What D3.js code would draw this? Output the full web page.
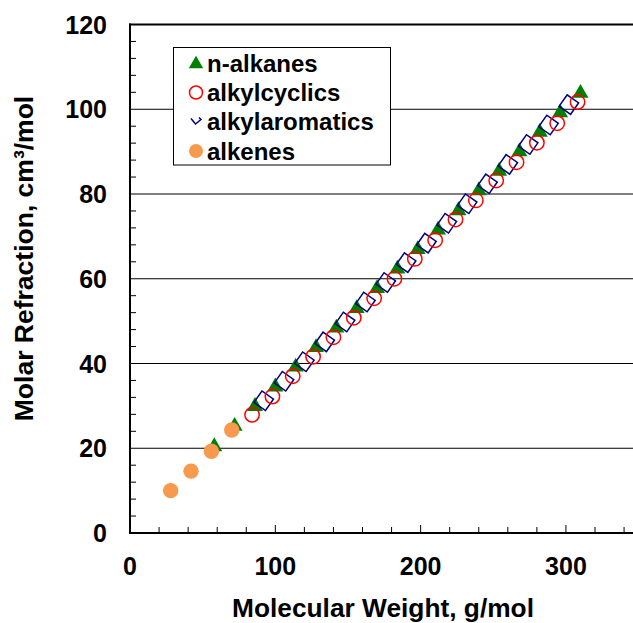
<!DOCTYPE html>
<html>
<head>
<meta charset="utf-8">
<script src="https://cdn.jsdelivr.net/npm/d3@7"></script>
<style>
  html, body { margin: 0; padding: 0; background: #fff; overflow: hidden; }
  svg { display: block; font-family: "Liberation Sans", Arial, sans-serif; font-weight: bold; }
</style>
</head>
<body>
<svg id="chart" width="633" height="623"></svg>
<script>
// ---- data ----
const alkaneMW  = [58, 72, 86, 100, 114, 128, 142, 156, 170, 184, 198, 212, 226, 240, 254, 268, 282, 296, 310];
const alkaneRI  = [20.4, 25.2, 29.9, 34.5, 39.2, 43.8, 48.4, 53.0, 57.7, 62.3, 66.9, 71.5, 76.1, 80.8, 85.4, 90.0, 94.6, 99.2, 103.8];
const cyclicMW  = [84, 98, 112, 126, 140, 154, 168, 182, 196, 210, 224, 238, 252, 266, 280, 294, 308];
const cyclicRI  = [27.9, 32.2, 37.0, 41.6, 46.2, 50.8, 55.4, 60.0, 64.7, 69.1, 74.0, 78.5, 83.2, 87.5, 92.1, 96.7, 101.7];
const aromMW    = [92, 106, 120, 134, 148, 162, 176, 190, 204, 218, 232, 246, 260, 274, 288, 302];
const aromRI    = [31.2, 35.8, 40.4, 45.1, 49.8, 54.5, 59.1, 63.8, 68.4, 73.1, 77.7, 82.4, 87.0, 91.7, 96.3, 101.1];
const alkeneMW  = [28, 42, 56, 70];
const alkeneRI  = [10.0, 14.6, 19.3, 24.3];
const seriesNames = ["n-alkanes", "alkylcyclics", "alkylaromatics", "alkenes"];
const xTicks = [0, 100, 200, 300];
const yTicks = [0, 20, 40, 60, 80, 100, 120];

const svg = d3.select("#chart");
const x = d3.scaleLinear().domain([0, 350]).range([130, 638.6]);
const y = d3.scaleLinear().domain([0, 120]).range([533, 24.5]);
const xRight = 633;

// gridlines
svg.append("g").selectAll("line").data([20, 40, 60, 80, 100]).join("line")
  .attr("x1", x(0)).attr("x2", xRight)
  .attr("y1", d => y(d)).attr("y2", d => y(d))
  .attr("stroke", "#000").attr("stroke-width", 1);

// minor/major ticks (inside)
const yMinor = d3.range(4, 120, 4).filter(d => d % 20 !== 0);
svg.append("g").selectAll("line").data(yMinor).join("line")
  .attr("x1", x(0)).attr("x2", x(0) + 6)
  .attr("y1", d => y(d)).attr("y2", d => y(d))
  .attr("stroke", "#000").attr("stroke-width", 1);
const xMinor = d3.range(20, 350, 20).filter(d => d % 100 !== 0);
svg.append("g").selectAll("line").data(xMinor).join("line")
  .attr("x1", d => x(d)).attr("x2", d => x(d))
  .attr("y1", y(0)).attr("y2", y(0) - 6)
  .attr("stroke", "#000").attr("stroke-width", 1);
svg.append("g").selectAll("line").data(xTicks.filter(d => d > 0)).join("line")
  .attr("x1", d => x(d)).attr("x2", d => x(d))
  .attr("y1", y(0)).attr("y2", y(0) - 8)
  .attr("stroke", "#000").attr("stroke-width", 1);

// frame
svg.append("line").attr("x1", x(0)).attr("x2", x(0)).attr("y1", y(120) - 1).attr("y2", y(0) + 1)
  .attr("stroke", "#000").attr("stroke-width", 2);
svg.append("line").attr("x1", x(0) - 1).attr("x2", xRight).attr("y1", y(0)).attr("y2", y(0))
  .attr("stroke", "#000").attr("stroke-width", 2);
svg.append("line").attr("x1", x(0) - 1).attr("x2", xRight).attr("y1", y(120)).attr("y2", y(120))
  .attr("stroke", "#000").attr("stroke-width", 2);

// tick labels
svg.append("g").selectAll("text").data(yTicks).join("text")
  .attr("x", 107).attr("y", d => y(d)).attr("dy", "0.36em")
  .attr("text-anchor", "end").attr("font-size", 25).text(d => d);
svg.append("g").selectAll("text").data(xTicks).join("text")
  .attr("x", d => x(d)).attr("y", 575)
  .attr("text-anchor", "middle").attr("font-size", 25).text(d => d);

// axis titles
svg.append("text").attr("x", 383).attr("y", 616.5).attr("text-anchor", "middle")
  .attr("font-size", 26.3).text("Molecular Weight, g/mol");
svg.append("text").attr("transform", "translate(32.5,258.5) rotate(-90)").attr("text-anchor", "middle")
  .attr("font-size", 26.5).text("Molar Refraction, cm³/mol");

// markers
const tri = d3.symbol().type(d3.symbolTriangle).size(110);
const zip = (a, b) => a.map((v, i) => [v, b[i]]);

svg.append("g").selectAll("path").data(zip(alkaneMW, alkaneRI)).join("path")
  .attr("d", tri).attr("transform", d => `translate(${x(d[0])},${y(d[1])})`)
  .attr("fill", "#008000");

svg.append("g").selectAll("rect").data(zip(aromMW, aromRI)).join("rect")
  .attr("x", -7).attr("y", -7).attr("width", 14).attr("height", 14)
  .attr("transform", d => `translate(${x(d[0])},${y(d[1])}) rotate(35)`)
  .attr("fill", "none").attr("stroke", "#000080").attr("stroke-width", 1.5);

svg.append("g").selectAll("circle").data(zip(cyclicMW, cyclicRI)).join("circle")
  .attr("cx", d => x(d[0])).attr("cy", d => y(d[1])).attr("r", 7.2)
  .attr("fill", "none").attr("stroke", "#ff0000").attr("stroke-width", 1.5);

svg.append("g").selectAll("circle").data(zip(alkeneMW, alkeneRI)).join("circle")
  .attr("cx", d => x(d[0])).attr("cy", d => y(d[1])).attr("r", 7.7)
  .attr("fill", "#f79a4d");

// legend
const lg = svg.append("g");
lg.append("rect").attr("x", 173.5).attr("y", 47.5).attr("width", 217).attr("height", 117.5)
  .attr("fill", "#fff").attr("stroke", "#000").attr("stroke-width", 1);
const rowY = [63, 92.5, 121.5, 151];
lg.selectAll("text").data(seriesNames).join("text")
  .attr("x", 207).attr("y", (d, i) => rowY[i]).attr("dy", "0.36em")
  .attr("font-size", 24).text(d => d);
lg.append("path").attr("d", d3.symbol().type(d3.symbolTriangle).size(90))
  .attr("transform", `translate(196,${rowY[0] + 1})`).attr("fill", "#008000");
lg.append("circle").attr("cx", 196).attr("cy", rowY[1]).attr("r", 6.5)
  .attr("fill", "none").attr("stroke", "#ff0000").attr("stroke-width", 1.5);
lg.append("path").attr("d", "M-5,-3 L-0.5,2.5 L5,-2 L3,-4")
  .attr("transform", `translate(196,${rowY[2]})`)
  .attr("fill", "none").attr("stroke", "#000080").attr("stroke-width", 1.5);
lg.append("circle").attr("cx", 196).attr("cy", rowY[3]).attr("r", 7)
  .attr("fill", "#f79a4d");
</script>
</body>
</html>
